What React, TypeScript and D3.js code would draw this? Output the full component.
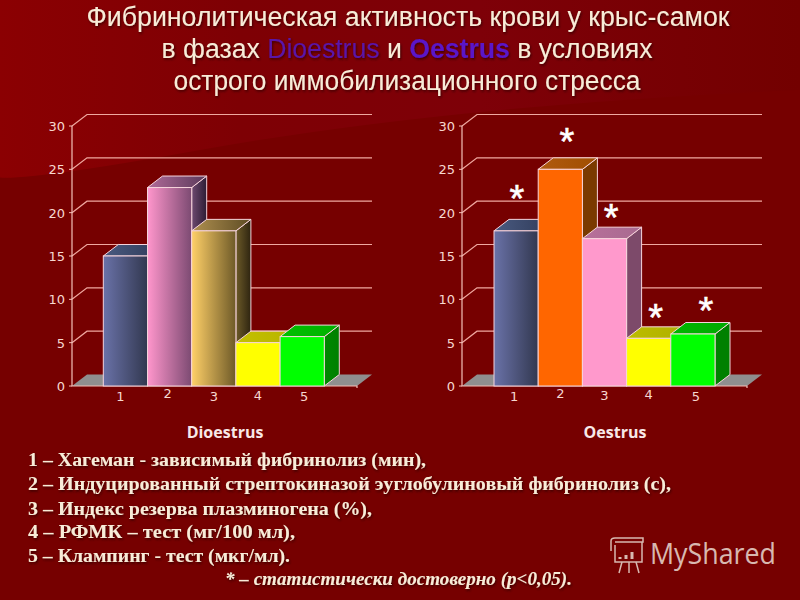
import React from "react";
import * as d3 from "d3";

const barLabels = ["1", "2", "3", "4", "5"];
const dioestrusValues = [15, 22.9, 17.9, 5, 5.7];
const oestrusValues = [17.9, 25, 17, 5.5, 6];
const yTicks = [0, 5, 10, 15, 20, 25, 30];

const dioestrusStyle = {
  front: [["#6a72a8", "#323850"], ["#ff96cc", "#7c4a72"], ["#ffd068", "#6e5a28"], ["#ffff00", "#ffff00"], ["#00ff00", "#00ff00"]],
  side: [["#2e3a58", "#1e2438"], ["#6e4a70", "#2c1c34"], ["#6c5a28", "#2e2410"], ["#a8a800", "#a8a800"], ["#008800", "#008000"]],
  lid: [["#4a5a80", "#2e3a58"], ["#b06a98", "#5a3a5a"], ["#b09050", "#5e4c24"], ["#c4c000", "#b8b400"], ["#00c000", "#00b000"]],
  labelDx: [-5, -2, 0, 0, 2],
  labelDy: [0, -3, 0, -1, 0],
};
const oestrusStyle = {
  front: [["#6a72a8", "#323850"], ["#ff6600", "#ff6600"], ["#ff99cc", "#ff99cc"], ["#ffff00", "#ffff00"], ["#00ff00", "#00ff00"]],
  side: [["#2e3a58", "#1e2438"], ["#7a3a00", "#7a3a00"], ["#7d4a6a", "#7d4a6a"], ["#a8a800", "#a8a800"], ["#008000", "#008000"]],
  lid: [["#4a5a80", "#2e3a58"], ["#b05a10", "#a04e00"], ["#b8709a", "#a86a90"], ["#bcbc00", "#b0b000"], ["#00b800", "#00a800"]],
  labelDx: [-2, 0, 0, 0, 3],
  labelDy: [0, -3, -1, -2, 0],
};

// axis level of the stars above the Oestrus bars
const starLevels = [22.1, 28.7, 20, 8.4, 9.2];
const starShift = [0.7, 6.7, 6.7, 7, 13];

const titleLines = [
  "Фибринолитическая активность крови у крыс-самок",
  "острого иммобилизационного стресса",
];
const legendLines = [
  "1 – Хагеман - зависимый фибринолиз (мин),",
  "2 – Индуцированный стрептокиназой эуглобулиновый фибринолиз (с),",
  "3 – Индекс резерва плазминогена (%),",
  "4 – РФМК – тест  (мг/100 мл),",
  "5 – Клампинг - тест (мкг/мл).",
];
const legendWidths = [398, 643, 344, 267, 262];
const legendBaselines = [466, 490, 515, 538, 562];
const logoBars = [2, 4, 7];

const depthX = 15;
const depthY = 11.5;

const Chart = ({ left, first, last, name, values, look, stars }) => {
  const y = d3.scaleLinear().domain([0, 30]).range([386, 126]);
  const x = d3.scaleBand().domain(barLabels).range([first, last]);
  const floorEnd = left + 285;
  const w = x.bandwidth();
  const grad = (id, pair) => (
    <linearGradient id={id}>
      <stop offset="0%" stopColor={pair[0]} />
      <stop offset="100%" stopColor={pair[1]} />
    </linearGradient>
  );
  return (
    <g>
      <path
        d={`M${left},${y(0)}L${left + depthX},${y(0) - depthY}H${floorEnd + depthX}L${floorEnd},${y(0)}Z`}
        fill="#8f8f8f"
      />
      {yTicks.slice(1).map((t) => (
        <path
          key={t}
          d={`M${left},${y(t)}l${depthX},${-depthY}H${floorEnd + depthX}`}
          fill="none"
          stroke="#f0a8a0"
          strokeWidth={1.2}
        />
      ))}
      <path d={`M${left},${y(30)}V${y(0)}H${floorEnd}v2`} fill="none" stroke="#f4c0b8" strokeWidth={1.2} />
      {yTicks.map((t) => (
        <g key={t}>
          <line x1={left - 3} x2={left} y1={y(t)} y2={y(t)} stroke="#f4c0b8" />
          <text
            x={left - 7}
            y={y(t) + 5}
            textAnchor="end"
            fontFamily="DejaVu Sans"
            fontSize={13}
            fill="#f6d8d0"
          >
            {t}
          </text>
        </g>
      ))}
      {barLabels.map((b, i) => {
        const bx = x(b);
        const top = y(values[i]);
        const h = y(0) - top;
        return (
          <g key={b} stroke="#f6d4dc" strokeWidth={1}>
            <defs>
              {grad(`front${name}${i}`, look.front[i])}
              {grad(`side${name}${i}`, look.side[i])}
              {grad(`lid${name}${i}`, look.lid[i])}
            </defs>
            <path
              d={`M${bx + w},${top}l${depthX},${-depthY}v${h}l${-depthX},${depthY}Z`}
              fill={`url(#side${name}${i})`}
            />
            <path
              d={`M${bx},${top}l${depthX},${-depthY}h${w}l${-depthX},${depthY}Z`}
              fill={`url(#lid${name}${i})`}
            />
            <rect x={bx} y={top} width={w} height={h} fill={`url(#front${name}${i})`} />
          </g>
        );
      })}
      {barLabels.map((b, i) => (
        <text
          key={b}
          x={x(b) + w / 2 + look.labelDx[i]}
          y={401 + look.labelDy[i]}
          textAnchor="middle"
          fontFamily="DejaVu Sans"
          fontSize={13}
          fill="#f6d8d0"
        >
          {b}
        </text>
      ))}
      <text
        x={left + 153}
        y={438}
        textAnchor="middle"
        fontFamily="Open Sans"
        fontWeight="bold"
        fontSize={16}
        fill="#f8e8e8"
      >
        {name}
      </text>
      {stars &&
        barLabels.map((b, i) => (
          <text
            key={b}
            x={x(b) + w / 2 + starShift[i]}
            y={y(starLevels[i]) + 18}
            textAnchor="middle"
            fontFamily="Liberation Sans"
            fontSize={38}
            fill="#ffffff"
            stroke="#ffffff"
            strokeWidth={0.6}
          >
            *
          </text>
        ))}
    </g>
  );
};

export default function App() {
  return (
    <svg
      width={800}
      height={600}
      style={{ position: "absolute", left: 0, top: 0 }}
    >
      <defs>
        <linearGradient id="bg" gradientUnits="userSpaceOnUse" x1="0" y1="0" x2="800" y2="0">
          <stop offset="0%" stopColor="#8b0002" />
          <stop offset="30%" stopColor="#7e0004" />
          <stop offset="60%" stopColor="#7e0008" />
          <stop offset="100%" stopColor="#730000" />
        </linearGradient>
        <filter id="shade" x="-5%" y="-20%" width="110%" height="150%">
          <feDropShadow dx={1} dy={1.5} stdDeviation={1} floodColor="#200000" floodOpacity={0.7} />
        </filter>
      </defs>
      <rect width={800} height={600} fill="#760000" />
      <path d="M0,0H800V90Q450,105 200,150T0,167Z" fill="url(#bg)" />

      <g
        filter="url(#shade)"
        fontFamily="Liberation Sans"
        fontSize={27}
        fill="#f8ecd8"
        textAnchor="middle"
      >
        <text x={408} y={26} textLength={643} lengthAdjust="spacingAndGlyphs">
          {titleLines[0]}
        </text>
        <text x={407} y={58} textLength={491} lengthAdjust="spacingAndGlyphs">
          <tspan>в фазах </tspan>
          <tspan fill="#5a14a8">Dioestrus</tspan>
          <tspan> и </tspan>
          <tspan fill="#5a14c8" fontWeight="bold">Oestrus</tspan>
          <tspan> в условиях</tspan>
        </text>
        <text x={407} y={90} textLength={467} lengthAdjust="spacingAndGlyphs">
          {titleLines[1]}
        </text>
      </g>

      <Chart left={72} first={103.3} last={324.3} name="Dioestrus" values={dioestrusValues} look={dioestrusStyle} stars={false} />
      <Chart left={462} first={494} last={715} name="Oestrus" values={oestrusValues} look={oestrusStyle} stars={true} />

      <g
        filter="url(#shade)"
        fontFamily="Liberation Serif"
        fontWeight="bold"
        fontSize={18}
        fill="#f8ecd8"
      >
        {legendLines.map((t, i) => (
          <text key={t} x={28} y={legendBaselines[i]} textLength={legendWidths[i]} lengthAdjust="spacingAndGlyphs">
            {t}
          </text>
        ))}
        <text x={225} y={585} fontStyle="italic" textLength={347} lengthAdjust="spacingAndGlyphs">
          * – статистически достоверно (р&lt;0,05).
        </text>
      </g>

      <g stroke="#d8b8b0" strokeWidth={1.5} fill="none">
        <path d="M615,545V562H642V542M611,551V541Q611,538 615,538H643V542H615" />
        <path d="M622,562L619,573M629,562V573M636,562L639,573" />
        {logoBars.map((h, i) => (
          <line key={i} x1={620 + i * 6} x2={620 + i * 6} y1={559} y2={559 - h} strokeWidth={3} />
        ))}
      </g>
      <text x={650} y={564} fontFamily="Open Sans" fontSize={29} fill="#d8b8b0" textLength={126} lengthAdjust="spacingAndGlyphs">
        MyShared
      </text>
    </svg>
  );
}
